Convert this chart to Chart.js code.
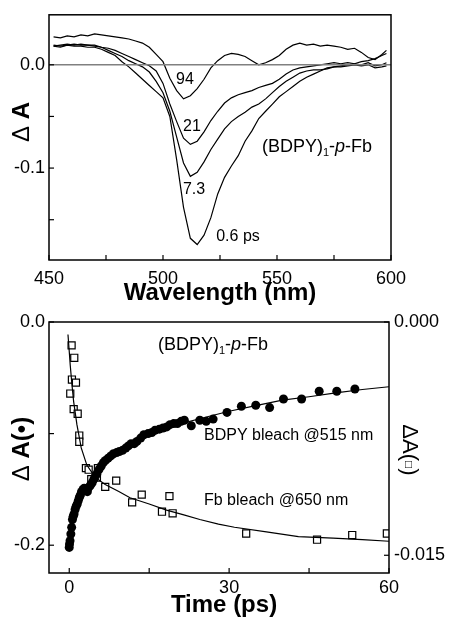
<!DOCTYPE html>
<html>
<head>
<meta charset="utf-8">
<script src="https://cdn.jsdelivr.net/npm/chart.js@4.4.0/dist/chart.umd.min.js"></script>
<style>
  body { margin: 0; background: #fff; }
  canvas { position: absolute; left: 0; }
  #specChart { top: 0; }
  #kinChart { top: 305px; }
</style>
</head>
<body>
<canvas id="specChart" width="450" height="305"></canvas>
<canvas id="kinChart" width="450" height="315"></canvas>
<script>
// Spectra (top panel)
const wavelengths = [452, 455, 458, 461, 464, 467, 470, 473, 476, 479, 482, 485, 488, 491, 494, 497, 500, 503, 506, 509,
  512, 515, 518, 521, 524, 527, 530, 533, 536, 539, 542, 545, 548, 551, 554, 557, 560, 563, 566, 569,
  572, 575, 578, 581, 584, 587, 590, 593, 596, 598];
const spec94 = [0.027, 0.026, 0.028, 0.027, 0.029, 0.028, 0.030, 0.029, 0.028, 0.027, 0.026, 0.025, 0.023, 0.021, 0.017, 0.010, 0.003, -0.013, -0.025, -0.033,
  -0.030, -0.023, -0.014, -0.003, 0.004, 0.009, 0.011, 0.010, 0.008, 0.004, 0.000, 0.002, 0.005, 0.009, 0.015, 0.019, 0.021, 0.019, 0.020, 0.018,
  0.019, 0.018, 0.017, 0.015, 0.016, 0.012, 0.007, 0.005, 0.010, 0.014];
const spec21 = [0.018, 0.019, 0.020, 0.019, 0.020, 0.019, 0.019, 0.017, 0.016, 0.014, 0.011, 0.008, 0.005, 0.002, -0.001, -0.006, -0.018, -0.038, -0.055, -0.071,
  -0.077, -0.074, -0.065, -0.054, -0.045, -0.037, -0.032, -0.029, -0.027, -0.025, -0.022, -0.020, -0.018, -0.014, -0.009, -0.005, -0.003, -0.002, -0.001, 0.000,
  0.001, 0.002, 0.001, 0.002, 0.001, 0.003, 0.004, 0.006, 0.009, 0.011];
const spec73 = [0.019, 0.018, 0.019, 0.020, 0.019, 0.019, 0.018, 0.017, 0.014, 0.011, 0.008, 0.004, 0.001, -0.002, -0.007, -0.016, -0.027, -0.045, -0.070, -0.095,
  -0.108, -0.104, -0.094, -0.082, -0.072, -0.062, -0.055, -0.050, -0.046, -0.041, -0.038, -0.033, -0.027, -0.021, -0.016, -0.012, -0.008, -0.006, -0.005, -0.005,
  -0.004, -0.002, -0.001, 0.000, 0.001, 0.000, 0.002, -0.001, 0.000, 0.002];
const spec06 = [0.018, 0.017, 0.019, 0.018, 0.018, 0.017, 0.017, 0.015, 0.012, 0.009, 0.003, -0.002, -0.008, -0.014, -0.020, -0.026, -0.032, -0.050, -0.092, -0.138,
  -0.168, -0.174, -0.165, -0.148, -0.125, -0.109, -0.098, -0.088, -0.074, -0.064, -0.052, -0.045, -0.038, -0.031, -0.026, -0.021, -0.016, -0.012, -0.009, -0.006,
  -0.003, -0.002, -0.002, -0.001, 0.000, -0.001, 0.000, -0.003, -0.002, -0.001];
const specXTicks = [450, 475, 500, 525, 550, 575, 600];
const specXLabels = [450, 500, 550, 600];
const specYTicks = [-0.15, -0.1, -0.05, 0];
const specYLabels = [-0.1, 0];

// Kinetics (bottom panel)
const bdpyTime = [0.0, 0.05, 0.15, 0.3, 0.45, 0.6, 0.75, 0.9, 1.1, 1.3, 1.5, 1.7, 1.9, 2.1, 2.3, 2.6, 2.8, 3.1, 3.4, 3.7,
  4.0, 4.3, 4.6, 4.9, 5.2, 5.6, 6.0, 6.4, 6.8, 7.3, 7.8, 8.3, 8.9, 9.4, 10.0, 10.6, 11.1, 11.6, 12.2, 12.7,
  13.4, 14.0, 14.8, 15.5, 16.1, 16.9, 17.6, 18.3, 18.9, 19.6, 20.3, 21.0, 21.6, 22.9, 24.5, 25.7, 27.0, 29.6, 32.3, 35.0,
  37.6, 40.2, 43.6, 46.9, 50.2, 53.6];
const bdpyBleach = [-0.202, -0.199, -0.196, -0.190, -0.184, -0.177, -0.174, -0.172, -0.168, -0.165, -0.163, -0.160, -0.157, -0.155, -0.152, -0.150, -0.149, -0.151, -0.152, -0.148,
  -0.146, -0.144, -0.141, -0.138, -0.136, -0.132, -0.129, -0.126, -0.124, -0.122, -0.120, -0.118, -0.117, -0.116, -0.115, -0.113, -0.111, -0.109, -0.109, -0.107,
  -0.104, -0.101, -0.100, -0.099, -0.097, -0.096, -0.095, -0.094, -0.092, -0.091, -0.091, -0.089, -0.088, -0.093, -0.088, -0.089, -0.087, -0.081, -0.0755, -0.0746,
  -0.0767, -0.069, -0.069, -0.062, -0.062, -0.060];
const bdpyFitTime = [-0.1, 0.3, 0.8, 1.4, 2.0, 2.7, 3.5, 4.3, 5.2, 6.4, 8, 10, 12, 15, 18, 21, 25, 30, 35, 40, 45, 50, 55, 60];
const bdpyFit = [-0.2025, -0.190, -0.177, -0.166, -0.158, -0.151, -0.146, -0.141, -0.136, -0.128, -0.120, -0.114, -0.108, -0.101, -0.096, -0.091, -0.086, -0.080, -0.075, -0.070, -0.067, -0.0635, -0.0605, -0.058];

const fbTime = [0.44, 0.94, 0.5, 1.26, 0.19, 0.83, 1.58, 1.88, 1.88, 3.13, 3.64, 5.38, 4.13, 5.19, 6.75, 8.81, 11.8, 13.6, 17.4, 18.8, 19.4, 33.2, 46.5, 53.1, 59.6];
const fbBleach = [-0.0015, -0.0023, -0.0037, -0.0039, -0.0046, -0.0056, -0.0059, -0.0073, -0.0077, -0.0094, -0.0095, -0.0094, -0.0101, -0.0100, -0.0106, -0.0102, -0.0116, -0.0111, -0.0122, -0.0112, -0.0123, -0.0136, -0.0140, -0.0137, -0.0136];
const fbFitTime = [-0.24, 0.0, 0.19, 0.5, 0.82, 1.44, 2.25, 3.3, 4.9, 6.75, 9.3, 11.4, 15, 18.25, 21.5, 24.5, 28, 31, 37, 43, 49.5, 55, 60];
const fbFit = [-0.0008, -0.0019, -0.0028, -0.0040, -0.0051, -0.0066, -0.0081, -0.0092, -0.0100, -0.01045, -0.0109, -0.0113, -0.0117, -0.0121, -0.0124, -0.0127, -0.0130, -0.0132, -0.0135, -0.0138, -0.0139, -0.0140, -0.0141];

const kinXTicks = [0, 15, 30, 45, 60];
const kinXLabels = [0, 30, 60];
const kinYTicks = [-0.2, -0.1, 0];
const kinYLabels = [-0.2, 0];
const kinY1Ticks = [-0.015, 0];

const FF = '"Liberation Sans", Arial, sans-serif';
const font = (size, style) => (style || 'normal') + ' ' + size + 'px ' + FF;

function pairs(xs, ys) {
  return xs.map((x, i) => ({ x: x, y: ys[i] }));
}

function lineSet(xs, ys, axis, color, width) {
  return {
    data: pairs(xs, ys),
    yAxisID: axis || 'y',
    borderColor: color || '#000',
    borderWidth: width || 1.2,
    pointRadius: 0,
    tension: 0,
    fill: false
  };
}

// draw text made of parts with different fonts
function drawRich(ctx, parts, x, y, align, rot) {
  ctx.save();
  ctx.translate(x, y);
  if (rot) ctx.rotate(rot);
  ctx.textBaseline = 'middle';
  ctx.textAlign = 'left';
  let total = 0;
  parts.forEach(p => { ctx.font = p.f; total += ctx.measureText(p.t).width; });
  let cx = align === 'left' ? 0 : -total / 2;
  parts.forEach(p => {
    ctx.font = p.f;
    ctx.fillStyle = '#000';
    ctx.fillText(p.t, cx, p.dy || 0);
    cx += ctx.measureText(p.t).width;
  });
  ctx.restore();
}

// box, inward ticks and text labels
function framePlugin(texts, tickLen) {
  return {
    id: 'frame',
    afterDraw(chart) {
      const ctx = chart.ctx;
      const a = chart.chartArea;
      ctx.save();
      ctx.strokeStyle = '#000';
      ctx.lineWidth = 1.5;
      ctx.strokeRect(a.left, a.top, a.right - a.left, a.bottom - a.top);
      ctx.lineWidth = 1.2;
      Object.values(chart.scales).forEach(s => {
        s.ticks.forEach(t => {
          const p = s.getPixelForValue(t.value);
          ctx.beginPath();
          if (s.position === 'left') { ctx.moveTo(a.left, p); ctx.lineTo(a.left + tickLen, p); }
          else if (s.position === 'right') { ctx.moveTo(a.right, p); ctx.lineTo(a.right - tickLen, p); }
          else { ctx.moveTo(p, a.bottom); ctx.lineTo(p, a.bottom - tickLen); }
          ctx.stroke();
        });
      });
      ctx.restore();
      texts.forEach(t => drawRich(ctx, t.parts, t.x, t.y, t.align, t.rot));
    }
  };
}

function axis(pos, min, max, tickList, labelList, digits, size, pad) {
  return {
    type: 'linear',
    position: pos,
    min: min,
    max: max,
    grid: { display: false, drawTicks: false },
    border: { display: false },
    afterBuildTicks: s => { s.ticks = tickList.map(v => ({ value: v })); },
    afterFit: s => {
      if (pos === 'bottom') s.height = size; else s.width = size;
    },
    ticks: {
      autoSkip: false,
      maxRotation: 0,
      padding: pad,
      color: '#000',
      font: { family: FF, size: 18 },
      callback: v => labelList.some(l => Math.abs(l - v) < 1e-9) ? (Math.abs(v) < 1e-9 ? (0).toFixed(digits) : v.toFixed(digits)) : ''
    }
  };
}

const baseOptions = {
  responsive: false,
  animation: false,
  plugins: { legend: { display: false }, tooltip: { enabled: false } }
};

// Top: spectra
new Chart(document.getElementById('specChart'), {
  type: 'line',
  data: {
    datasets: [
      lineSet([450, 600], [0, 0], 'y', '#808080', 1.6),
      lineSet(wavelengths, spec94),
      lineSet(wavelengths, spec21),
      lineSet(wavelengths, spec73),
      lineSet(wavelengths, spec06)
    ]
  },
  options: Object.assign({}, baseOptions, {
    layout: { padding: { top: 13, right: 59, left: 0, bottom: 0 } },
    scales: {
      x: axis('bottom', 450, 600, specXTicks, specXLabels, 0, 45, 8),
      y: axis('left', -0.189, 0.0484, specYTicks, specYLabels, 1, 49, 4)
    }
  }),
  plugins: [framePlugin([
    { parts: [{ t: '94', f: font(16) }], x: 185, y: 80 },
    { parts: [{ t: '21', f: font(16) }], x: 192, y: 127 },
    { parts: [{ t: '7.3', f: font(16) }], x: 194, y: 190 },
    { parts: [{ t: '0.6 ps', f: font(16) }], x: 238, y: 237 },
    { parts: [{ t: '(BDPY)', f: font(18) }, { t: '1', f: font(11), dy: 6 }, { t: '-', f: font(18) },
              { t: 'p', f: font(18, 'italic') }, { t: '-Fb', f: font(18) }], x: 317, y: 147 },
    { parts: [{ t: '\u0394 ', f: font(24) }, { t: 'A', f: font(24, 'bold') }], x: 22, y: 122, rot: -Math.PI / 2 },
    { parts: [{ t: 'Wavelength (nm)', f: font(24, 'bold') }], x: 220, y: 293 }
  ], 5)]
});

// Bottom: kinetics
const OFF = 305;
new Chart(document.getElementById('kinChart'), {
  type: 'line',
  data: {
    datasets: [
      lineSet(bdpyFitTime, bdpyFit, 'y'),
      lineSet(fbFitTime, fbFit, 'y1'),
      {
        data: pairs(bdpyTime, bdpyBleach),
        yAxisID: 'y',
        showLine: false,
        pointStyle: 'circle',
        pointRadius: 4.5,
        pointBackgroundColor: '#000',
        pointBorderColor: '#000',
        pointBorderWidth: 0
      },
      {
        data: pairs(fbTime, fbBleach),
        yAxisID: 'y1',
        showLine: false,
        pointStyle: 'rect',
        pointRadius: 5,
        pointBackgroundColor: '#fff',
        pointBorderColor: '#000',
        pointBorderWidth: 1.2
      }
    ]
  },
  options: Object.assign({}, baseOptions, {
    layout: { padding: { top: 17, right: 0, left: 0, bottom: 0 } },
    scales: {
      x: axis('bottom', -3.8, 60, kinXTicks, kinXLabels, 0, 47, 4),
      y: axis('left', -0.2249, 0, kinYTicks, kinYLabels, 1, 49, 4),
      y1: axis('right', -0.01614, 0, kinY1Ticks, kinY1Ticks, 3, 61, 5)
    }
  }),
  plugins: [framePlugin([
    { parts: [{ t: '(BDPY)', f: font(18) }, { t: '1', f: font(11), dy: 6 }, { t: '-', f: font(18) },
              { t: 'p', f: font(18, 'italic') }, { t: '-Fb', f: font(18) }], x: 213, y: 345 - OFF },
    { parts: [{ t: 'BDPY bleach @515 nm', f: font(16) }], x: 204, y: 436 - OFF, align: 'left' },
    { parts: [{ t: 'Fb bleach @650 nm', f: font(16) }], x: 204, y: 501 - OFF, align: 'left' },
    { parts: [{ t: '\u0394 ', f: font(24) }, { t: 'A(\u2022)', f: font(24, 'bold') }], x: 22, y: 449 - OFF, rot: -Math.PI / 2 },
    { parts: [{ t: 'Time (ps)', f: font(24, 'bold') }], x: 224, y: 605 - OFF },
    { parts: [{ t: '\u0394A(', f: font(22) }, { t: '\u25A1', f: font(12), dy: 1 }, { t: ')', f: font(22) }], x: 409, y: 450 - OFF, rot: Math.PI / 2 }
  ], 5)]
});
</script>
</body>
</html>
